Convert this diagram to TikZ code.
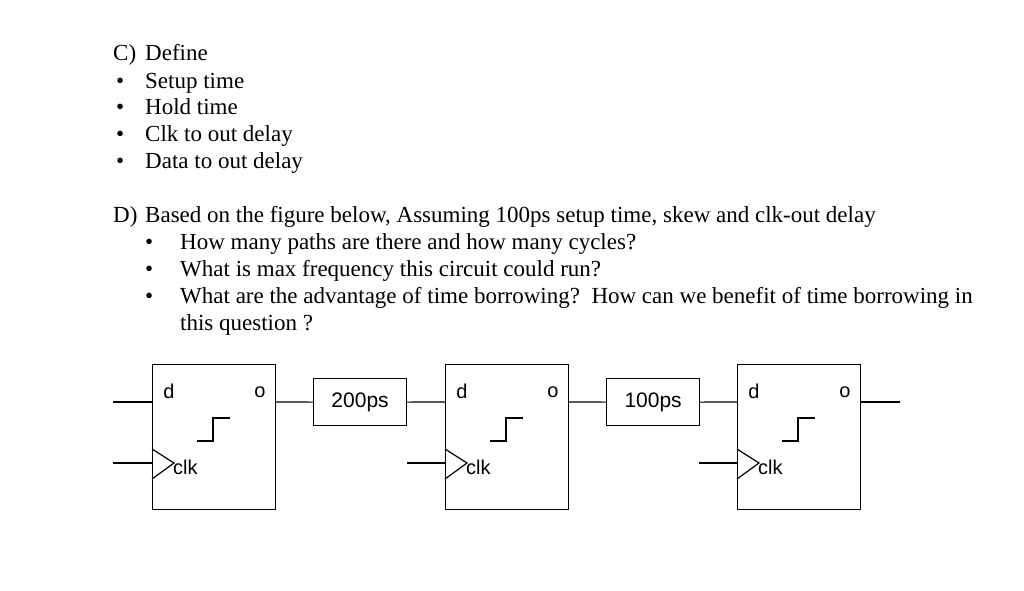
\documentclass[tikz,border=0pt]{standalone}
\usepackage{fontspec}
\setmainfont{Liberation Serif}
\newfontfamily\arial{Liberation Sans}
\begin{document}
\begin{tikzpicture}[x=1pt,y=-1pt,
  txt/.style={anchor=base west,inner sep=0pt,font=\fontsize{23}{26}\selectfont},
  lab/.style={inner sep=0pt,font=\arial\fontsize{20}{22}\selectfont},
  ff/.style={draw,line width=1.2pt,minimum width=123pt,minimum height=145pt,anchor=north west,inner sep=0pt},
  dl/.style={draw,line width=1.2pt,minimum width=93pt,minimum height=47pt,anchor=north west,inner sep=0pt,font=\arial\fontsize{21}{24}\selectfont},
  w/.style={line width=1.2pt}]
\useasboundingbox (0,0) rectangle (1024,590);
% text
\node[txt] (c0) at (113,60) {C)};
\node[txt] (c1) at (145,60) {Define};
\foreach \y/\t [count=\i] in {88/Setup time,114/Hold time,141/Clk to out delay,168/Data to out delay}{
  \node[txt] (cb\i) at (116,\y) {•};
  \node[txt] (ct\i) at (145,\y) {\t};
}
\node[txt] (d0) at (113,222) {D)};
\node[txt] (d1) at (145,222) {Based on the figure below, Assuming 100ps setup time, skew and clk-out delay};
\foreach \y/\t [count=\i] in {249/How many paths are there and how many cycles?,276/What is max frequency this circuit could run?,303/What are the advantage of time borrowing?\ \ How can we benefit of time borrowing in}{
  \node[txt] (db\i) at (145,\y) {•};
  \node[txt] (dt\i) at (180,\y) {\t};
}
\node[txt] (dt4) at (180,330) {this question ?};
% circuit
\foreach \n/\x in {1/152,2/445,3/737}{
  \node[ff] (f\n) at (\x,364) {};
  \node[lab] (fd\n) at (\x+17,391) {d};
  \node[lab] (fo\n) at (\x+108,392) {o};
  \node[lab,anchor=west] (fc\n) at (\x+21,467) {clk};
  \coordinate (fi\n) at (\x,402);
  \coordinate (fk\n) at (\x,463);
  \coordinate (fq\n) at (\x+123,402);
  \draw[w] (\x,449) -- (\x+22,463) -- (\x,479);
  \draw[w] (\x+45,441) -- (\x+61,441) -- (\x+61,418) -- (\x+78,418);
}
\node[dl] (b1) at (313,378) {200ps};
\node[dl] (b2) at (606,378) {100ps};
\coordinate (in1) at (113,402);
\coordinate (ck1) at (113,463);
\coordinate (ck2) at (407,463);
\coordinate (ck3) at (699,463);
\coordinate (out) at (900,402);
\draw[w] (in1) -- (fi1);
\draw[w] (fq1) -- (b1.west);
\draw[w] (b1.east) -- (fi2);
\draw[w] (fq2) -- (b2.west);
\draw[w] (b2.east) -- (fi3);
\draw[w] (fq3) -- (out);
\draw[w] (ck1) -- (fk1);
\draw[w] (ck2) -- (fk2);
\draw[w] (ck3) -- (fk3);
\end{tikzpicture}
\end{document}
